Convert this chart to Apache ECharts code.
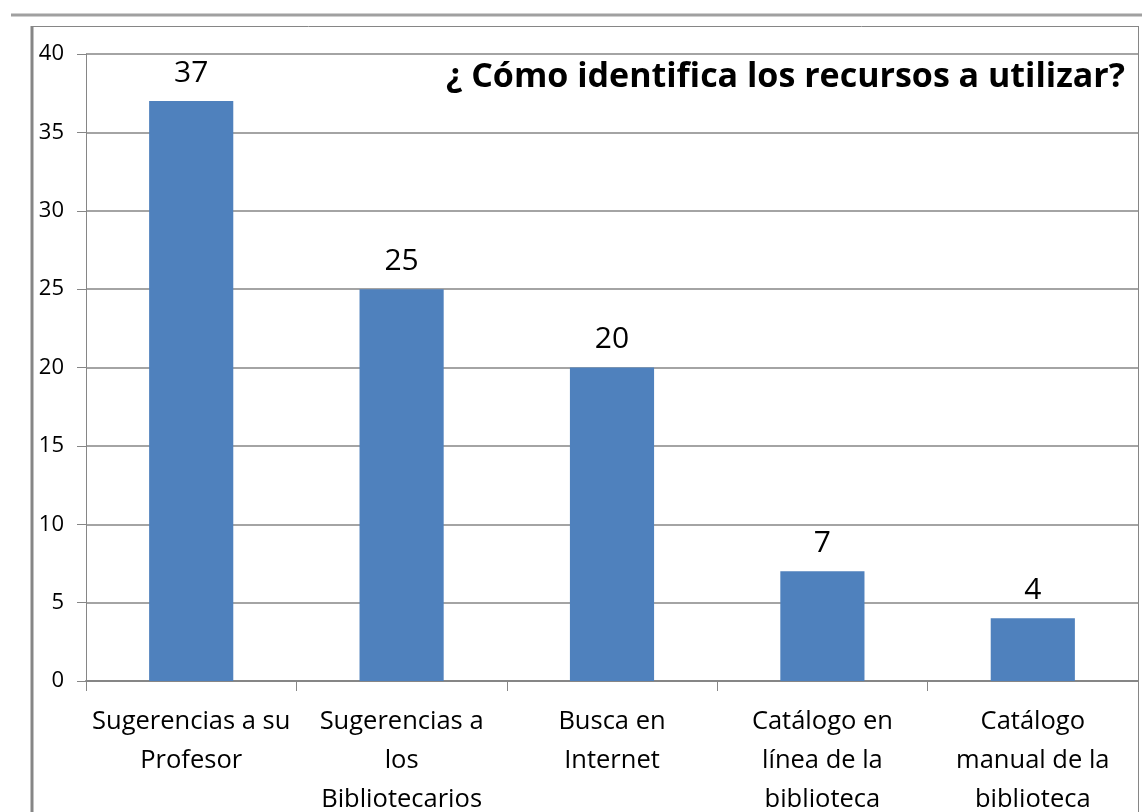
<!DOCTYPE html>
<html>
<head>
<meta charset="utf-8">
<script src="https://cdn.jsdelivr.net/npm/echarts@6/dist/echarts.min.js"></script>
<style>
  html, body { margin: 0; padding: 0; background: #fff; }
  #chart { width: 1142px; height: 812px; }
</style>
</head>
<body>
<div id="chart"></div>
<script>
const categories = [
  'Sugerencias a su\nProfesor',
  'Sugerencias a\nlos\nBibliotecarios',
  'Busca en\nInternet',
  'Catálogo en\nlínea de la\nbiblioteca',
  'Catálogo\nmanual de la\nbiblioteca'
];
const values = [37, 25, 20, 7, 4];
const yTicks = { min: 0, max: 40, interval: 5 };
const titleText = '¿ Cómo identifica los recursos a utilizar?';

const font = '"Open Sans", "Liberation Sans", sans-serif';
const myChart = echarts.init(document.getElementById('chart'));
const option = {
  backgroundColor: '#fff',
  animation: false,
  title: {
    text: titleText,
    right: 12,
    top: 55,
    textStyle: { fontFamily: font, fontSize: 34, fontWeight: 'bold', color: '#000' }
  },
  graphic: [
    { type: 'line', shape: { x1: 11, y1: 15, x2: 1142, y2: 15 }, style: { stroke: '#a0a0a0', lineWidth: 3 } },
    { type: 'line', shape: { x1: 32, y1: 26, x2: 32, y2: 812 }, style: { stroke: '#868686', lineWidth: 3 } },
    { type: 'line', shape: { x1: 32, y1: 26.5, x2: 1138, y2: 26.5 }, style: { stroke: '#868686', lineWidth: 1 } },
    { type: 'line', shape: { x1: 1138.5, y1: 26, x2: 1138.5, y2: 812 }, style: { stroke: '#868686', lineWidth: 1 } }
  ],
  grid: { left: 86, right: 4, top: 54, bottom: 131, containLabel: false, outerBoundsMode: 'none' },
  xAxis: {
    type: 'category',
    data: categories,
    axisLine: { lineStyle: { color: '#868686', width: 2 } },
    axisTick: { show: true, length: 10, lineStyle: { color: '#868686' } },
    axisLabel: { fontFamily: font, fontSize: 25.5, color: '#000', lineHeight: 39, margin: 21, interval: 0 }
  },
  yAxis: {
    type: 'value',
    min: yTicks.min,
    max: yTicks.max,
    interval: yTicks.interval,
    axisLine: { show: true, lineStyle: { color: '#868686' } },
    axisTick: { show: true, length: 9, lineStyle: { color: '#868686' } },
    axisLabel: { fontFamily: font, fontSize: 22, color: '#000', margin: 22 },
    splitLine: { lineStyle: { color: '#868686', width: 1.5 } }
  },
  series: [{
    type: 'bar',
    data: values,
    barWidth: '40%',
    itemStyle: { color: '#4F81BD' },
    label: {
      show: true,
      position: 'top',
      distance: 13,
      fontFamily: font,
      fontSize: 30,
      color: '#000'
    }
  }]
};
myChart.setOption(option);
</script>
</body>
</html>
